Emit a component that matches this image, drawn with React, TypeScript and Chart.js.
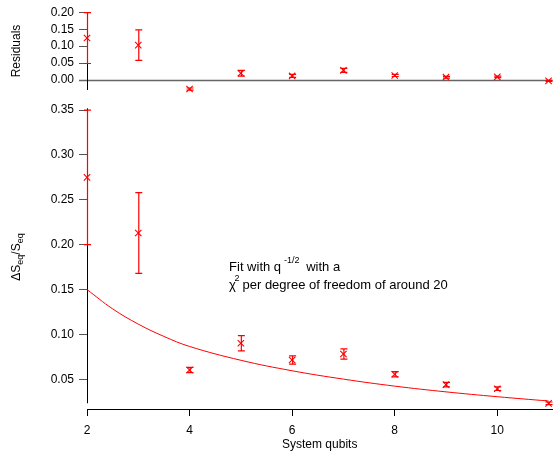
import React, { useEffect, useRef } from 'react';
import { Chart, registerables } from 'chart.js';

Chart.register(...registerables);

// ---- data ----
const qubits = [2, 3, 4, 5, 6, 7, 8, 9, 10, 11];
const ratio = [0.275, 0.213, 0.0604, 0.0902, 0.0715, 0.0782, 0.0556, 0.044, 0.0395, 0.0232];
const errors = [0.075, 0.045, 0.003, 0.0085, 0.0045, 0.0058, 0.003, 0.0025, 0.002, 0.0015];
const residuals = [0.124, 0.103, -0.026, 0.0205, 0.0125, 0.029, 0.0138, 0.0088, 0.0097, -0.002];
const fitQubits = [2, 2.5, 3, 3.5, 4, 5, 6, 7, 8, 9, 10, 11];
const fitValues = [0.15, 0.1285, 0.1115, 0.0978, 0.0866, 0.0712, 0.0595, 0.0502, 0.0424, 0.036, 0.0306, 0.0258];

const xTicks = [2, 4, 6, 8, 10];
const residualTicks = [0, 0.05, 0.1, 0.15, 0.2];
const mainTicks = [0.05, 0.1, 0.15, 0.2, 0.25, 0.3, 0.35];
const residualAxisSpan = [-0.029, 0.2];
const mainAxisSpan = [0.0233, 0.352];

const FONT = "'Liberation Sans', Arial, Helvetica, sans-serif";
const RED = '#ff0000';

export default function App() {
  const ref = useRef<HTMLCanvasElement>(null);

  useEffect(() => {
    const canvas = ref.current;
    if (!canvas) return;

    const decorations = {
      id: 'decorations',
      beforeDatasetsDraw(chart: any) {
        const ctx = chart.ctx;
        const { left, right } = chart.chartArea;
        const yr = chart.scales.yr;
        const ym = chart.scales.y;
        const ax = Math.round(left) + 0.5;
        ctx.save();
        const z = Math.round(yr.getPixelForValue(0)) + 0.5;
        ctx.strokeStyle = '#666';
        ctx.lineWidth = 1.5;
        ctx.beginPath();
        ctx.moveTo(left - 8, z);
        ctx.lineTo(right, z);
        ctx.stroke();
        ctx.strokeStyle = '#000';
        ctx.lineWidth = 1;
        ctx.beginPath();
        ctx.moveTo(ax, yr.getPixelForValue(residualAxisSpan[1]));
        ctx.lineTo(ax, yr.getPixelForValue(residualAxisSpan[0]));
        ctx.moveTo(ax, ym.getPixelForValue(mainAxisSpan[1]));
        ctx.lineTo(ax, ym.getPixelForValue(mainAxisSpan[0]));
        ctx.stroke();
        ctx.restore();
      },
      afterDatasetsDraw(chart: any) {
        const ctx = chart.ctx;
        const xs = chart.scales.x;
        chart.data.datasets.forEach((ds: any, i: number) => {
          const errs = ds.errors;
          if (!errs) return;
          const ys = chart.scales[chart.getDatasetMeta(i).yAxisID];
          ctx.save();
          ctx.strokeStyle = RED;
          ctx.lineWidth = 1.2;
          ctx.beginPath();
          ds.data.forEach((p: any, j: number) => {
            const px = xs.getPixelForValue(p.x) + 0.5;
            const top = ys.getPixelForValue(p.y + errs[j]);
            const bot = ys.getPixelForValue(p.y - errs[j]);
            ctx.moveTo(px, top);
            ctx.lineTo(px, bot);
            ctx.moveTo(px - 3.5, top);
            ctx.lineTo(px + 3.5, top);
            ctx.moveTo(px - 3.5, bot);
            ctx.lineTo(px + 3.5, bot);
          });
          ctx.stroke();
          ctx.restore();
        });
      },
      afterDraw(chart: any) {
        const ctx = chart.ctx;
        const xs = chart.scales.x;
        const ym = chart.scales.y;
        ctx.save();
        ctx.fillStyle = '#000';
        ctx.save();
        ctx.translate(17, 51);
        ctx.rotate(-Math.PI / 2);
        ctx.font = `12px ${FONT}`;
        ctx.textAlign = 'center';
        ctx.textBaseline = 'middle';
        ctx.fillText('Residuals', 0, 0);
        ctx.restore();

        ctx.save();
        ctx.translate(17, 257);
        ctx.rotate(-Math.PI / 2);
        ctx.textBaseline = 'middle';
        ctx.textAlign = 'left';
        const big = `12px ${FONT}`;
        const small = `9px ${FONT}`;
        const parts: [string, string, number][] = [
          ['ΔS', big, 0],
          ['eq', small, 3.5],
          ['/S', big, 0],
          ['eq', small, 3.5],
        ];
        let total = 0;
        parts.forEach(([t, f]) => {
          ctx.font = f;
          total += ctx.measureText(t).width;
        });
        let cx = -total / 2;
        parts.forEach(([t, f, dy]) => {
          ctx.font = f;
          ctx.fillText(t, cx, dy);
          cx += ctx.measureText(t).width;
        });
        ctx.restore();

        // annotation
        const aBig = `13px ${FONT}`;
        const aSmall = `9px ${FONT}`;
        const ax = xs.getPixelForValue(4.77);
        const l1 = ym.getPixelForValue(0.1712);
        const l2 = ym.getPixelForValue(0.1505);
        ctx.textAlign = 'left';
        ctx.textBaseline = 'alphabetic';
        ctx.font = aBig;
        let x = ax;
        ctx.fillText('Fit with q', x, l1);
        x += ctx.measureText('Fit with q').width + 3;
        ctx.font = aSmall;
        ctx.fillText('-1/2', x, l1 - 7.5);
        x += ctx.measureText('-1/2').width + 3;
        ctx.font = aBig;
        ctx.fillText(' with a', x, l1);

        x = ax;
        ctx.font = aBig;
        ctx.fillText('χ', x, l2);
        const cw = ctx.measureText('χ').width;
        ctx.font = aSmall;
        ctx.fillText('2', x + cw - 1.5, l2 - 8);
        ctx.font = aBig;
        ctx.fillText(' per degree of freedom of around 20', x + cw + 3, l2);
        ctx.restore();
      },
    };

    const tickStyle = { color: '#000', font: { family: FONT, size: 12 } };

    const chart = new Chart(canvas, {
      type: 'scatter',
      data: {
        datasets: [
          {
            label: 'fit',
            data: fitQubits.map((q, i) => ({ x: q, y: fitValues[i] })),
            yAxisID: 'y',
            showLine: true,
            borderColor: RED,
            borderWidth: 1,
            pointRadius: 0,
            tension: 0.4,
          },
          {
            label: 'data',
            data: qubits.map((q, i) => ({ x: q, y: ratio[i] })),
            yAxisID: 'y',
            showLine: false,
            clip: false,
            pointStyle: 'crossRot',
            pointRadius: 4.5,
            borderWidth: 1.1,
            borderColor: RED,
            backgroundColor: RED,
            errors,
          } as any,
          {
            label: 'residuals',
            data: qubits.map((q, i) => ({ x: q, y: residuals[i] })),
            yAxisID: 'yr',
            showLine: false,
            clip: false,
            pointStyle: 'crossRot',
            pointRadius: 4.5,
            borderWidth: 1.1,
            borderColor: RED,
            backgroundColor: RED,
            errors,
          } as any,
        ],
      },
      options: {
        responsive: false,
        animation: false,
        devicePixelRatio: 1,
        layout: { padding: { top: 12, left: 0, right: 0, bottom: 0 } },
        plugins: { legend: { display: false }, tooltip: { enabled: false } },
        scales: {
          x: {
            type: 'linear',
            position: 'bottom',
            min: 2,
            max: 11.075,
            afterBuildTicks: (s: any) => {
              s.ticks = xTicks.map((v) => ({ value: v }));
            },
            afterFit: (s: any) => {
              s.height = 44;
            },
            grid: { drawOnChartArea: false, drawTicks: true, tickLength: 7, color: '#000' },
            border: { display: true, color: '#000', width: 1 },
            ticks: {
              ...tickStyle,
              padding: 7,
              autoSkip: false,
              maxRotation: 0,
              callback: (v: any) => String(v),
            },
            title: {
              display: true,
              text: 'System qubits',
              color: '#000',
              font: { family: FONT, size: 12 },
              padding: { top: 0, bottom: 1 },
            },
          },
          yr: {
            type: 'linear',
            position: 'left',
            stack: 'panels',
            stackWeight: 88,
            weight: 2,
            min: -0.0588,
            max: 0.2,
            afterBuildTicks: (s: any) => {
              s.ticks = residualTicks.map((v) => ({ value: v }));
            },
            afterFit: (s: any) => {
              s.width = 87;
            },
            grid: { drawOnChartArea: false, drawTicks: true, tickLength: 8, color: '#555' },
            border: { display: false },
            ticks: { ...tickStyle, padding: 5, autoSkip: false, callback: (v: any) => Number(v).toFixed(2) },
          } as any,
          y: {
            type: 'linear',
            position: 'left',
            stack: 'panels',
            stackWeight: 309,
            weight: 1,
            min: 0.0169,
            max: 0.3611,
            afterBuildTicks: (s: any) => {
              s.ticks = mainTicks.map((v) => ({ value: v }));
            },
            afterFit: (s: any) => {
              s.width = 87;
            },
            grid: { drawOnChartArea: false, drawTicks: true, tickLength: 8, color: '#555' },
            border: { display: false },
            ticks: { ...tickStyle, padding: 5, autoSkip: false, callback: (v: any) => Number(v).toFixed(2) },
          } as any,
        },
      },
      plugins: [decorations],
    });

    return () => chart.destroy();
  }, []);

  return (
    <div style={{ position: 'fixed', left: 0, top: 0, width: 558, height: 453, background: '#fff' }}>
      <canvas ref={ref} width={558} height={453} style={{ display: 'block', width: 558, height: 453 }} />
    </div>
  );
}
